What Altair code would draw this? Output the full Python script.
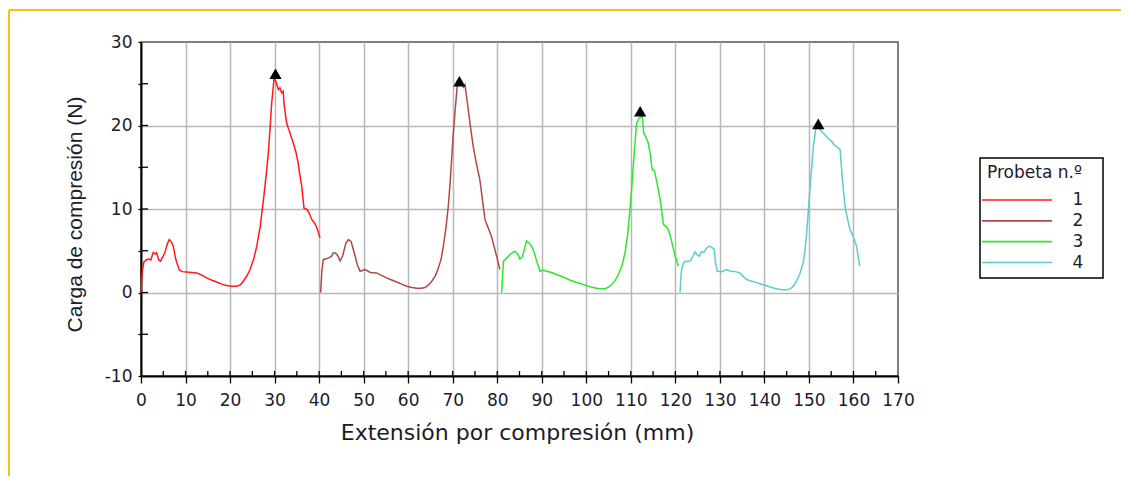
import altair as alt
import pandas as pd

# ---------------- data ----------------
series_names = ["1", "2", "3", "4"]
series_colors = ["#ff1a1a", "#b04848", "#2ee82e", "#5ccccc"]
legend_title = "Probeta n.º"

s1 = [(0, 0), (0.3, 2.5), (0.6, 3.6), (1.2, 3.9), (1.65, 4.0), (2.2, 3.9), (2.75, 4.8),
      (3.2, 4.6), (3.5, 4.75), (4.0, 3.9), (4.4, 3.75), (4.9, 4.3), (5.35, 4.75), (5.9, 5.8),
      (6.35, 6.35), (6.8, 6.1), (7.25, 5.55), (7.8, 4.0), (8.6, 2.7), (9.3, 2.5), (10.2, 2.45),
      (11.3, 2.4), (12.5, 2.35), (13.6, 2.1), (14.7, 1.75), (15.8, 1.5), (17.0, 1.25),
      (18.1, 1.0), (19.2, 0.85), (20.3, 0.75), (21.5, 0.75), (22.3, 0.9), (22.95, 1.35),
      (23.8, 2.0), (24.5, 2.75), (25.3, 4.0), (26.0, 5.55), (26.8, 8.0), (27.5, 11.1),
      (28.1, 14.0), (28.6, 16.7), (29.0, 19.8), (29.35, 22.7), (29.9, 25.7), (30.3, 25.2),
      (30.85, 24.3), (31.2, 24.5), (31.6, 23.9), (31.95, 24.1), (32.1, 22.7), (32.7, 20.3),
      (33.4, 19.2), (34.2, 17.9), (34.8, 16.8), (35.3, 15.5), (35.7, 14.0), (36.1, 12.7),
      (36.6, 10.1), (37.1, 10.0), (37.6, 9.7), (38.0, 9.2), (38.35, 8.75), (39.0, 8.3),
      (39.5, 7.75), (40.2, 6.55)]

s2 = [(40.35, 0), (40.6, 2.5), (40.95, 3.95), (41.5, 4.0), (42.1, 4.15), (42.7, 4.3),
      (43.2, 4.75), (43.7, 4.7), (44.2, 4.4), (44.7, 3.8), (45.3, 4.4), (46.0, 5.9),
      (46.6, 6.35), (47.2, 6.1), (47.6, 5.3), (48.1, 4.35), (48.6, 3.3), (49.2, 2.55),
      (50.3, 2.75), (51.5, 2.4), (52.9, 2.35), (54.0, 2.05), (55.2, 1.75), (56.3, 1.5),
      (57.4, 1.25), (58.5, 1.0), (59.7, 0.75), (60.8, 0.6), (61.9, 0.5), (63.0, 0.5),
      (63.8, 0.6), (64.6, 0.9), (65.3, 1.35), (66.1, 2.0), (66.8, 2.95), (67.4, 4.0),
      (67.9, 5.55), (68.5, 7.8), (69.0, 10.3), (69.4, 13.0), (69.75, 15.9), (70.1, 18.8),
      (70.5, 21.5), (71.0, 24.7), (71.5, 25.0), (72.0, 25.1), (72.4, 24.6), (72.75, 24.9),
      (73.1, 23.5), (73.5, 21.9), (74.0, 19.8), (74.6, 17.5), (75.3, 15.5), (76.1, 13.5),
      (76.7, 11.0), (77.25, 8.75), (78.0, 7.7), (78.7, 6.75), (79.3, 5.5), (79.85, 4.35),
      (80.6, 2.75)]

s3 = [(81.0, 0), (81.2, 2.0), (81.4, 3.75), (81.9, 4.0), (82.5, 4.35), (83.2, 4.7),
      (84.0, 4.95), (84.6, 4.6), (85.1, 4.0), (85.7, 4.3), (86.1, 5.2), (86.6, 6.15),
      (87.2, 5.9), (87.7, 5.55), (88.3, 4.8), (89.0, 3.5), (89.6, 2.55), (90.3, 2.7),
      (91.1, 2.55), (92.2, 2.4), (93.3, 2.15), (94.8, 1.85), (96.3, 1.5), (97.8, 1.2),
      (99.3, 0.95), (100.8, 0.7), (102.3, 0.5), (103.2, 0.45), (104.2, 0.45), (105.0, 0.65),
      (105.7, 0.95), (106.5, 1.45), (107.2, 2.15), (108.0, 3.2), (108.7, 4.75), (109.3, 7.0),
      (109.8, 9.9), (110.2, 12.5), (110.55, 15.1), (110.9, 17.7), (111.3, 20.3), (111.9, 20.9),
      (112.6, 21.1), (112.9, 19.1), (113.4, 18.6), (113.9, 17.9), (114.4, 16.5), (114.8, 14.7),
      (115.3, 14.6), (116.0, 12.8), (116.6, 11.1), (117.0, 9.5), (117.3, 8.15), (117.9, 7.9),
      (118.4, 7.55), (119.0, 6.5), (119.4, 5.55), (120.0, 4.3), (120.7, 3.15)]

s4 = [(121.05, 0), (121.2, 1.5), (121.4, 2.75), (121.8, 3.5), (122.2, 3.75), (122.8, 3.7),
      (123.3, 3.75), (123.9, 4.3), (124.4, 4.85), (124.9, 4.5), (125.4, 4.35), (125.9, 4.9),
      (126.4, 4.8), (127.0, 5.3), (127.6, 5.55), (128.2, 5.4), (128.7, 5.2), (129.0, 3.6),
      (129.4, 2.55), (130.4, 2.5), (131.5, 2.75), (132.4, 2.55), (133.5, 2.5), (134.5, 2.35),
      (135.3, 1.9), (136.0, 1.55), (137.5, 1.3), (139.0, 1.05), (140.5, 0.8), (142.0, 0.55),
      (143.3, 0.4), (144.6, 0.3), (145.4, 0.35), (146.1, 0.55), (146.7, 0.9), (147.2, 1.35),
      (148.0, 2.3), (148.7, 3.55), (149.1, 5.0), (149.5, 7.15), (149.85, 9.7), (150.2, 12.3),
      (150.6, 14.9), (151.0, 17.5), (151.6, 19.9), (152.0, 19.7), (152.5, 19.5), (153.0, 19.2),
      (153.6, 18.9), (154.1, 18.6), (154.6, 18.3), (155.1, 18.1), (155.6, 17.7), (156.1, 17.5),
      (157.0, 17.1), (157.4, 14.3), (157.7, 12.5), (158.1, 10.3), (158.6, 9.0), (159.2, 7.55),
      (159.7, 7.0), (160.2, 6.3), (160.7, 5.55), (161.0, 4.5), (161.4, 3.15)]

peak_x = [30.2, 71.5, 112.1, 152.1]
peak_y = [26.2, 25.3, 21.7, 20.2]

x_ticks = list(range(0, 171, 5))
y_ticks = list(range(-10, 31, 5))
x_inner_ticks = list(range(5, 170, 5))
y_inner_ticks = list(range(-5, 30, 5))

# ---------------- tables ----------------
rows = []
for name, pts in zip(series_names, [s1, s2, s3, s4]):
    for i, (xv, yv) in enumerate(pts):
        rows.append({"serie": name, "x": xv, "y": yv, "i": i})
lines_df = pd.DataFrame(rows)
peaks_df = pd.DataFrame({"x": peak_x, "y": peak_y})
xt_df = pd.DataFrame({"v": x_inner_ticks})
yt_df = pd.DataFrame({"v": y_inner_ticks})
one_df = pd.DataFrame({"a": [0]})
leg_df = pd.DataFrame({"serie": series_names, "row": list(range(len(series_names)))})

W, H = 757, 334
LABEL_FONT = "DejaVu Sans"
TXT = "#1c1c2a"

xscale = alt.Scale(domain=[0, 170], nice=False, zero=False)
yscale = alt.Scale(domain=[-10, 30], nice=False, zero=False)
color_scale = alt.Scale(domain=series_names, range=series_colors)
# legend rows (pixel range inside the plot group)
leg_scale = alt.Scale(domain=[0, 3], range=[158, 220.5], nice=False, zero=False)

x_axis = alt.Axis(
    values=x_ticks,
    labelExpr="datum.value % 10 === 0 ? toString(datum.value) : ''",
    labelOverlap=False, labelFlush=False,
    labelFont=LABEL_FONT, labelFontSize=17, labelColor=TXT, labelPadding=9,
    tickSize=7, tickColor="black", tickWidth=1.3,
    domainColor="black", domainWidth=2,
    grid=True, gridColor="#b8b8b8", gridWidth=1.5,
    gridOpacity={"condition": {"test": "datum.value % 10 === 0 && datum.value > 0 && datum.value < 170", "value": 1}, "value": 0},
    title="Extensión por compresión (mm)",
    titleFont=LABEL_FONT, titleFontSize=22, titleFontWeight="normal", titleColor=TXT,
    titleX=376, titleY=46, titleBaseline="top", titleAlign="center",
)
y_axis = alt.Axis(
    values=y_ticks,
    labelExpr="datum.value % 10 === 0 ? toString(datum.value) : ''",
    labelOverlap=False, labelFlush=False,
    labelFont=LABEL_FONT, labelFontSize=17, labelColor=TXT, labelPadding=6,
    tickSize=3, tickColor="black", tickWidth=1.3,
    domainColor="black", domainWidth=2,
    grid=True, gridColor="#b8b8b8", gridWidth=1.5,
    gridOpacity={"condition": {"test": "datum.value % 10 === 0 && datum.value > -10 && datum.value < 30", "value": 1}, "value": 0},
    title="Carga de compresión (N)",
    titleFont="Liberation Sans", titleFontSize=21, titleFontWeight="normal", titleColor=TXT,
    titleAngle=270, titleBaseline="bottom", titleAlign="center", titleX=-56, titleY=172,
)

lines = alt.Chart(lines_df).mark_line(strokeWidth=1.5).encode(
    x=alt.X("x:Q", scale=xscale, axis=x_axis),
    y=alt.Y("y:Q", scale=yscale, axis=y_axis),
    color=alt.Color("serie:N", scale=color_scale, legend=None),
    order="i:Q",
)

peaks = alt.Chart(peaks_df).mark_point(shape="triangle-up", filled=True, color="black",
                                        opacity=1, size=150).encode(
    x=alt.X("x:Q", scale=xscale),
    y=alt.Y("y:Q", scale=yscale, axis=None),
)

x_inner = alt.Chart(xt_df).mark_rule(color="black", strokeWidth=1.3).encode(
    x=alt.X("v:Q", scale=xscale),
    y=alt.value(H), y2=alt.value(H - 5),
)
y_inner = alt.Chart(yt_df).mark_rule(color="black", strokeWidth=1.3).encode(
    y=alt.Y("v:Q", scale=yscale, axis=None),
    x=alt.value(0), x2=alt.value(7),
)

# ---- legend box drawn as marks ----
leg_box = alt.Chart(one_df).mark_rect(fill="white", stroke="black", strokeWidth=1.5).encode(
    x=alt.value(839), x2=alt.value(962), y=alt.value(116), y2=alt.value(236))
leg_title = alt.Chart(one_df).mark_text(
    text=legend_title, font=LABEL_FONT, fontSize=17, color=TXT, align="left", baseline="middle"
).encode(x=alt.value(846), y=alt.value(131))
leg_lines = alt.Chart(leg_df).mark_rule(strokeWidth=1.6).encode(
    y=alt.Y("row:Q", scale=leg_scale, axis=None),
    x=alt.value(841), x2=alt.value(911),
    color=alt.Color("serie:N", scale=color_scale, legend=None),
)
leg_labels = alt.Chart(leg_df).mark_text(
    font=LABEL_FONT, fontSize=17, color=TXT, align="center", baseline="middle"
).encode(
    y=alt.Y("row:Q", scale=leg_scale, axis=None),
    x=alt.value(937),
    text="serie:N",
)

gold_top = alt.Chart(one_df).mark_rule(color="#f5c211", strokeWidth=2).encode(
    x=alt.value(-132), x2=alt.value(980), y=alt.value(-32))
gold_left = alt.Chart(one_df).mark_rule(color="#f5c211", strokeWidth=2).encode(
    x=alt.value(-132), y=alt.value(-32), y2=alt.value(H + 100))

chart = alt.layer(
    lines, x_inner, y_inner, peaks, leg_box, leg_title, leg_lines, leg_labels, gold_top, gold_left
).resolve_scale(y="independent").properties(
    width=W, height=H,
    autosize=alt.AutoSizeParams(type="none"),
    padding={"left": 133, "top": 34, "right": 223, "bottom": 100},
    background="white",
).configure_view(stroke="#555555", strokeWidth=1.5)

chart.save("out.html", embed_options={"renderer": "svg", "actions": False})
